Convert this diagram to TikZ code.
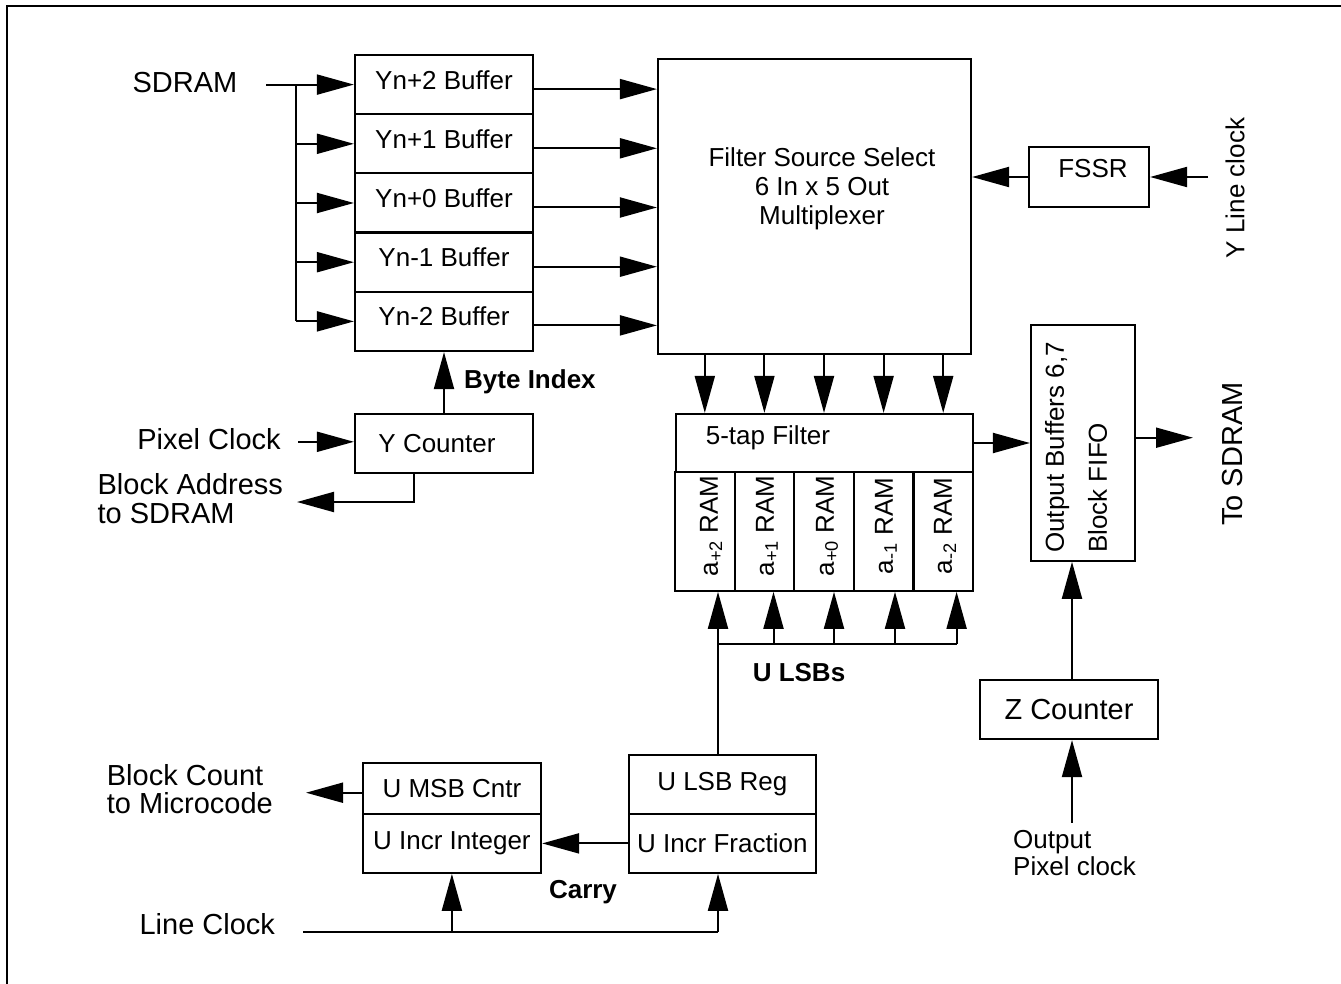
\documentclass[tikz,border=0pt]{standalone}
\usepackage{fontspec}
\setmainfont{Liberation Sans}
\usetikzlibrary{arrows.meta}
\begin{document}
\begin{tikzpicture}[x=1pt,y=-1pt,
  box/.style={draw,line width=2.2pt,inner sep=0pt},
  bufbox/.style={box,minimum width=178pt,minimum height=59.2pt},
  rambox/.style={box,minimum width=59.6pt,minimum height=118.7pt},
  fs/.style={font=\fontsize{26}{31}\selectfont},
  fb/.style={font=\fontsize{29}{35}\selectfont},
  fbold/.style={font=\fontsize{26}{31}\selectfont\bfseries},
  txt/.style={inner sep=0pt},
  con/.style={line width=2pt},
  arr/.style={line width=2pt,-{Triangle[length=37pt,width=20pt]}},
]
\useasboundingbox (0,0) rectangle (1341,984);
% frame
\coordinate (fr1) at (7,984);
\coordinate (fr2) at (7,6);
\coordinate (fr3) at (1341,6);
\draw[line width=2pt] (fr1) -- (fr2) -- (fr3);

% buffers
\node[bufbox] (b1) at (444,84.6) {};
\node[bufbox] (b2) at (444,143.8) {};
\node[bufbox] (b3) at (444,203) {};
\node[bufbox] (b4) at (444,262.2) {};
\node[bufbox] (b5) at (444,321.4) {};
\node[fs,txt] (t1) at (444,80) {Yn+2 Buffer};
\node[fs,txt] (t2) at (444,139) {Yn+1 Buffer};
\node[fs,txt] (t3) at (444,198) {Yn+0 Buffer};
\node[fs,txt] (t4) at (444,257) {Yn-1 Buffer};
\node[fs,txt] (t5) at (444,316) {Yn-2 Buffer};

% SDRAM input
\node[fb,txt] (sd) at (185,83) {SDRAM};
\coordinate (s0) at (266,84.6);
\coordinate (bx) at (296,84.6);
\draw[arr] (s0) -- (b1.west);
\draw[con] (bx) -- (bx |- b5.west);
\draw[arr] (bx |- b2.west) -- (b2.west);
\draw[arr] (bx |- b3.west) -- (b3.west);
\draw[arr] (bx |- b4.west) -- (b4.west);
\draw[arr] (bx |- b5.west) -- (b5.west);

% multiplexer
\node[box,minimum width=313pt,minimum height=295pt] (m) at (814.5,206.5) {};
\node[txt,align=center,font=\fontsize{26}{29}\selectfont] (mt) at (822,189) {Filter Source Select\\6 In x 5 Out\\Multiplexer};
\coordinate (o1) at ([yshift=-4.5pt]b1.east);
\coordinate (o2) at ([yshift=-4.5pt]b2.east);
\coordinate (o3) at ([yshift=-4.5pt]b3.east);
\coordinate (o4) at ([yshift=-4.5pt]b4.east);
\coordinate (o5) at ([yshift=-4pt]b5.east);
\draw[arr] (o1) -- (o1 -| m.west);
\draw[arr] (o2) -- (o2 -| m.west);
\draw[arr] (o3) -- (o3 -| m.west);
\draw[arr] (o4) -- (o4 -| m.west);
\draw[arr] (o5) -- (o5 -| m.west);

% FSSR
\node[box,minimum width=120pt,minimum height=60pt] (f) at (1089,177) {};
\node[fs,txt] (ft1) at (1093,169) {FSSR};
\coordinate (ylc) at (1208,177);
\draw[arr] (ylc) -- (f.east);
\draw[arr] (f.west) -- (f.west -| m.east);
\node[fs,txt,rotate=90] (ylt) at (1235,188) {Y Line clock};

% 5-tap filter and RAMs
\node[box,minimum width=297pt,minimum height=58pt] (ft) at (824.5,443) {};
\node[fs,txt] (ftt) at (768,438) {5-tap Filter};
\node[rambox] (r1) at (704.8,531.4) {};
\node[rambox] (r2) at (764.4,531.4) {};
\node[rambox] (r3) at (824,531.4) {};
\node[rambox] (r4) at (883.6,531.4) {};
\node[rambox] (r5) at (943.2,531.4) {};
\node[fs,txt,rotate=90] (rl1) at (711,526) {a\textsubscript{+2} RAM};
\node[fs,txt,rotate=90] (rl2) at (767,526) {a\textsubscript{+1} RAM};
\node[fs,txt,rotate=90] (rl3) at (827,526) {a\textsubscript{+0} RAM};
\node[fs,txt,rotate=90] (rl4) at (886,526) {a\textsubscript{-1} RAM};
\node[fs,txt,rotate=90] (rl5) at (945,526) {a\textsubscript{-2} RAM};
\draw[arr] (r1 |- m.south) -- (r1 |- ft.north);
\draw[arr] (r2 |- m.south) -- (r2 |- ft.north);
\draw[arr] (r3 |- m.south) -- (r3 |- ft.north);
\draw[arr] (r4 |- m.south) -- (r4 |- ft.north);
\draw[arr] (r5 |- m.south) -- (r5 |- ft.north);

% output buffers
\node[box,minimum width=104pt,minimum height=236pt] (ob) at (1083,442.7) {};
\node[txt,rotate=90,align=left,anchor=west,font=\fontsize{26}{43}\selectfont] (obt) at (1076,553) {Output Buffers 6,7\\Block FIFO};
\draw[arr] (ft.east) -- (ft.east -| ob.west);
\coordinate (tsa) at (1193,437.7);
\draw[arr] (tsa -| ob.east) -- (tsa);
\node[fb,txt,rotate=90] (tsd) at (1233,454) {To SDRAM};

% Z counter
\node[box,fb,minimum width=178pt,minimum height=59pt] (z) at (1069,709.5) {Z Counter};
\coordinate (opc) at (1072,822.7);
\draw[arr] (opc) -- (opc |- z.south);
\draw[arr] (opc |- z.north) -- (opc |- ob.south);
\node[txt,align=left,anchor=west,font=\fontsize{26}{27}\selectfont] (opt) at (1013,853.5) {Output\\Pixel clock};

% Y counter
\node[box,minimum width=178pt,minimum height=58.8pt] (yc) at (444,443.4) {};
\node[fs,txt] (yct) at (437,444) {Y Counter};
\draw[arr] (yc.north) -- (b5.south);
\node[fbold,txt,anchor=west] (bi) at (464,381.5) {Byte Index};
\node[fb,txt] (pct) at (209,439) {Pixel Clock};
\coordinate (pck) at (298,441.8);
\draw[arr] (pck) -- (pck -| yc.west);
\coordinate (bat) at ([xshift=-30pt]yc.south);
\coordinate (bad) at (297,502);
\draw[arr] (bat) |- (bad);
\node[txt,align=left,anchor=west,font=\fontsize{29}{29}\selectfont] (bat2) at (97.4,498.5) {Block Address\\to SDRAM};

% U counters
\node[box,fs,minimum width=178.3pt,minimum height=51.3pt] (um) at (451.9,788.4) {U MSB Cntr};
\node[box,fs,minimum width=178.3pt,minimum height=58.7pt] (ui) at (451.9,843.4) {U Incr Integer};
\node[box,fs,minimum width=187.4pt,minimum height=59.3pt] (ul) at (722.3,784.4) {U LSB Reg};
\node[box,fs,minimum width=187.4pt,minimum height=58.7pt] (uf) at (722.3,843.4) {U Incr Fraction};
\draw[arr] (uf.west) -- (ui.east);
\node[fbold,txt] (cy) at (583,891.7) {Carry};
\coordinate (bc) at (306,792.7);
\draw[arr] (bc -| um.west) -- (bc);
\node[txt,align=left,anchor=west,font=\fontsize{29}{28}\selectfont] (bct) at (106.7,789) {Block Count\\to Microcode};

% U LSBs bus
\coordinate (ua1) at (718,644);
\coordinate (ua2) at (773.5,644);
\coordinate (ua3) at (834,644);
\coordinate (ua4) at (895,644);
\coordinate (ua5) at (956.6,644);
\draw[arr] (ua1 |- ul.north) -- (ua1 |- r1.south);
\draw[con] (ua1) -- (ua5);
\draw[arr] (ua2) -- (ua2 |- r1.south);
\draw[arr] (ua3) -- (ua3 |- r1.south);
\draw[arr] (ua4) -- (ua4 |- r1.south);
\draw[arr] (ua5) -- (ua5 |- r1.south);
\node[fbold,txt] (ulsb) at (799,673) {U LSBs};

% line clock
\node[fb,txt] (lct) at (207.3,924) {Line Clock};
\coordinate (lc) at (303,931.7);
\coordinate (lcf) at (718,931.7);
\draw[con] (lc) -- (lcf);
\draw[arr] (lcf) -- (lcf |- uf.south);
\draw[arr] (ui.south |- lc) -- (ui.south);
\end{tikzpicture}
\end{document}
